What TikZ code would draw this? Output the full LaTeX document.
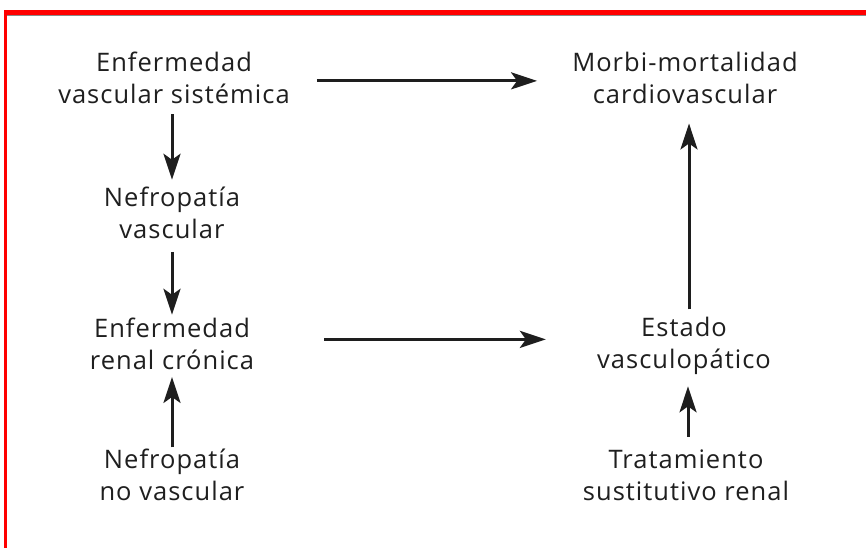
\documentclass[tikz,border=0pt]{standalone}
\usepackage{fontspec}
\setmainfont{Open Sans}[LetterSpace=4]
\usetikzlibrary{arrows.meta}
\definecolor{txt}{HTML}{1F1F1F}
\definecolor{arr}{HTML}{1E1E1E}
\definecolor{framered}{HTML}{FF0000}
\definecolor{frameshade}{HTML}{8A8A8A}
\newcommand{\twol}[2]{\vtop{\baselineskip=32pt\halign{\hfil##\hfil\cr#1\cr#2\cr}}}
\begin{document}
\begin{tikzpicture}[x=1pt,y=-1pt,
  lbl/.style={inner sep=0pt, anchor=base, text=txt, font=\fontsize{25.5}{32}\selectfont},
  arw/.style={draw=arr, line width=3pt, -{Stealth[length=26pt,width=17pt,inset=6pt]}}]
\useasboundingbox (0,0) rectangle (866,548);
\fill[white] (0,0) rectangle (866,548);
\fill[framered] (4,10) rectangle (866,15);
\fill[frameshade] (7.3,15) rectangle (866,16.5);
\fill[framered] (4,10) rectangle (7.3,548);
% nodes
\node[lbl] (evs) at (174,72) {\twol{Enfermedad}{vascular sistémica}};
\node[lbl] (mmc) at (685,72) {\twol{Morbi-mortalidad}{cardiovascular}};
\node[lbl] (nv) at (172,206) {\twol{Nefropatía}{vascular}};
\node[lbl] (erc) at (172,337) {\twol{Enfermedad}{renal crónica}};
\node[lbl] (evp) at (684,336) {\twol{Estado}{vasculopático}};
\node[lbl] (nnv) at (172,468) {\twol{Nefropatía}{no vascular}};
\node[lbl] (tsr) at (686,468) {\twol{Tratamiento}{sustitutivo renal}};
% connectors
\draw[arw, shorten <=27pt, shorten >=35pt] ([yshift=-2.5pt]evs.east) -- ([yshift=-2.5pt]evs.east -| mmc.west);
\draw[arw, shorten <=70pt, shorten >=51pt] ([yshift=4pt]erc.east) -- ([yshift=4pt]erc.east -| evp.west);
\draw[arw, shorten <=10pt, shorten >=6.5pt] ([xshift=-2pt]evs.south) -- (nv.north);
\draw[arw, shorten <=13.5pt, shorten >=2.5pt] (nv.south) -- (erc.north);
\draw[arw, shorten <=1pt, shorten >=7.5pt] (nnv.north) -- (erc.south);
\draw[arw, shorten <=7pt, shorten >=19pt] ([xshift=5pt]evp.north) -- ([xshift=4pt]mmc.south);
\draw[arw, shorten <=12.5pt, shorten >=12pt] ([xshift=2pt]tsr.north) -- ([xshift=4pt]evp.south);
\end{tikzpicture}
\end{document}
